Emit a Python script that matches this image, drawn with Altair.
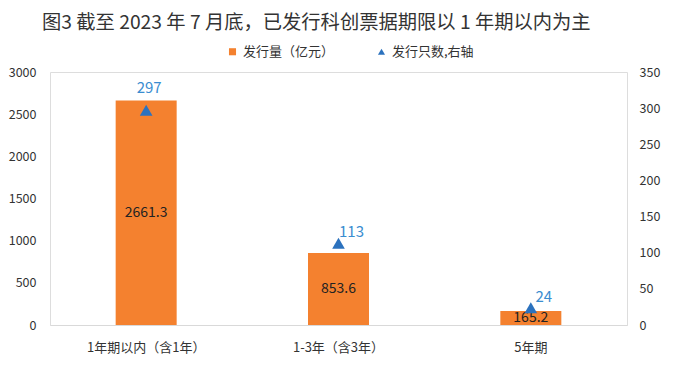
import altair as alt
import pandas as pd

categories = ["1年期以内（含1年）", "1-3年（含3年）", "5年期"]
amounts = [2661.3, 853.6, 165.2]
counts = [297, 113, 24]
series_names = ["发行量（亿元）", "发行只数,右轴"]
left_ticks = [0, 500, 1000, 1500, 2000, 2500, 3000]
right_ticks = [0, 50, 100, 150, 200, 250, 300, 350]

FONT = "Noto Sans CJK SC"
ORANGE = "#F4812F"
BLUE = "#2C72BE"
LABEL_BLUE = "#3A8DD0"

df_bar = pd.DataFrame({"cat": categories, "amount": amounts, "series": series_names[0]})
df_pt = pd.DataFrame({"cat": categories, "count": counts, "series": series_names[1]})

x_enc = alt.X(
    "cat:N",
    sort=categories,
    scale=alt.Scale(paddingInner=0, paddingOuter=0),
    axis=alt.Axis(
        title=None, labelAngle=0, ticks=False, domainColor="#D9D9D9",
        labelFontSize=13, labelColor="#333333", labelPadding=16, labelFont=FONT,
    ),
)

left_axis = alt.Axis(
    title=None, values=left_ticks, format="d", domain=False, ticks=False, grid=False,
    labelFontSize=12.5, labelColor="#333333", labelPadding=14, labelFont=FONT,
    orient="left",
)
right_axis = alt.Axis(
    title=None, values=right_ticks, format="d", domain=False, ticks=False, grid=False,
    labelFontSize=12.5, labelColor="#333333", labelPadding=12, labelFont=FONT,
    orient="right", labelOverlap=False,
)
left_scale = alt.Scale(domain=[0, 3000])
right_scale = alt.Scale(domain=[0, 350])

color_scale = alt.Scale(domain=series_names, range=[ORANGE, BLUE])
shape_scale = alt.Scale(domain=series_names, range=["square", "triangle-up"])
legend = alt.Legend(
    title=None, orient="none", legendX=176, legendY=-27, direction="horizontal",
    labelFontSize=13, labelFont=FONT, labelColor="#333333", symbolSize=50,
    columnPadding=40, labelOffset=4, symbolStrokeWidth=0,
)

bars = alt.Chart(df_bar).mark_bar(size=61).encode(
    x=x_enc,
    y=alt.Y("amount:Q", scale=left_scale, axis=left_axis),
    color=alt.Color("series:N", scale=color_scale, legend=legend),
)

bar_text = alt.Chart(df_bar).transform_calculate(mid="datum.amount / 2").mark_text(
    fontSize=14, font=FONT, color="#222222", baseline="middle"
).encode(
    x=alt.X("cat:N", sort=categories),
    y=alt.Y("mid:Q", scale=left_scale, axis=left_axis),
    text=alt.Text("amount:Q", format=".1f"),
)

left = alt.layer(bars, bar_text)

points = alt.Chart(df_pt).mark_point(filled=True, size=160, opacity=1).encode(
    x=alt.X("cat:N", sort=categories),
    y=alt.Y("count:Q", scale=right_scale, axis=right_axis),
    color=alt.Color("series:N", scale=color_scale, legend=legend),
    shape=alt.Shape("series:N", scale=shape_scale, legend=legend),
)

pt_text_first = alt.Chart(df_pt).transform_filter(
    alt.datum.cat == categories[0]
).mark_text(fontSize=15, font=FONT, color=LABEL_BLUE, dx=3, dy=-22, baseline="middle").encode(
    x=alt.X("cat:N", sort=categories),
    y=alt.Y("count:Q", scale=right_scale, axis=right_axis),
    text=alt.Text("count:Q"),
)

pt_text_rest = alt.Chart(df_pt).transform_filter(
    alt.datum.cat != categories[0]
).mark_text(fontSize=15, font=FONT, color=LABEL_BLUE, dx=13, dy=-11, baseline="middle").encode(
    x=alt.X("cat:N", sort=categories),
    y=alt.Y("count:Q", scale=right_scale, axis=right_axis),
    text=alt.Text("count:Q"),
)

right = alt.layer(points, pt_text_first, pt_text_rest)

chart = alt.layer(left, right).resolve_scale(y="independent").properties(
    width=577,
    height=253,
    padding={"left": 0, "top": 5, "right": 5, "bottom": 5},
    title=alt.TitleParams(
        "图3 截至 2023 年 7 月底，已发行科创票据期限以 1 年期以内为主",
        fontSize=19.3, font=FONT, color="#333333", fontWeight="normal",
        anchor="start", frame="group", dx=-8, offset=12,
    ),
).configure_view(stroke=None).configure(background="white")

chart.save("out.html", embed_options={"renderer": "svg", "actions": False})
